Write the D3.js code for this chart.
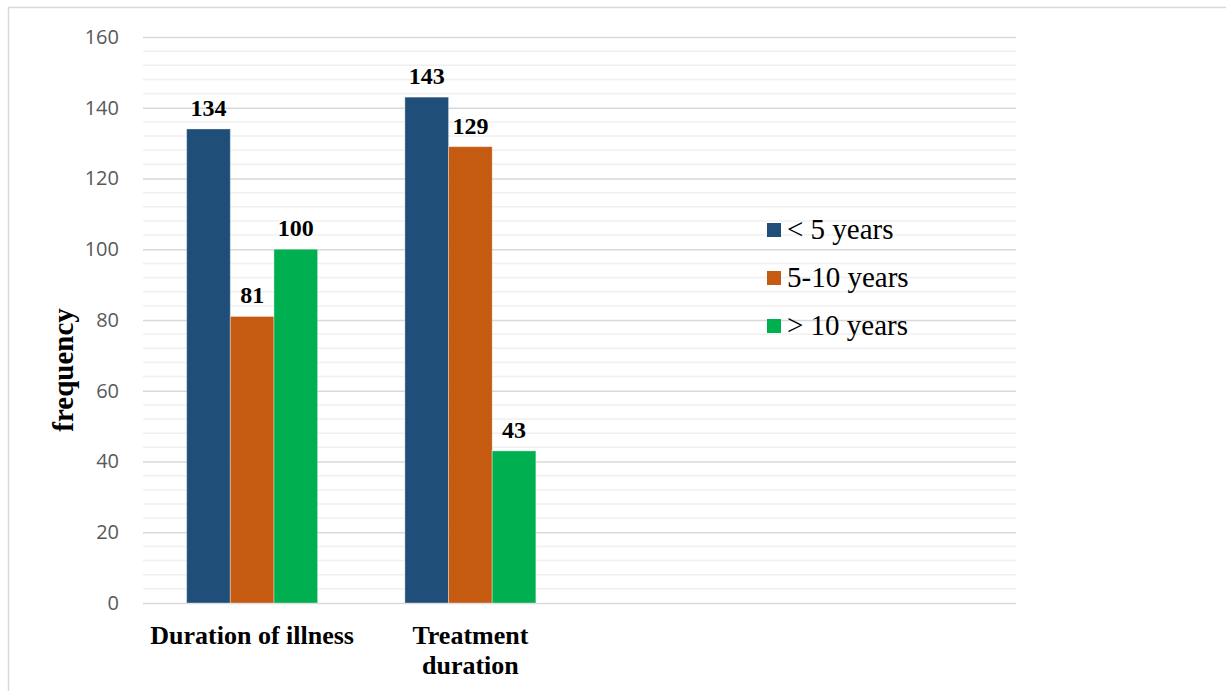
<!DOCTYPE html>
<html>
<head>
<meta charset="utf-8">
<script src="https://cdn.jsdelivr.net/npm/d3@7/dist/d3.min.js"></script>
<style>
  html, body { margin: 0; padding: 0; background: #fff; }
  svg { display: block; }
</style>
</head>
<body>
<svg id="chart" width="1226" height="691"></svg>
<script>
// Frequency of patients by duration band
const categories = ["Duration of illness", "Treatment duration", "", " "];
const seriesNames = ["< 5 years", "5-10 years", "> 10 years"];
const seriesColors = ["#1f4e79", "#c55a11", "#00b050"];
const lessThan5 = [134, 143];
const from5to10 = [81, 129];
const moreThan10 = [100, 43];
const seriesValues = [lessThan5, from5to10, moreThan10];
const yTicks = [0, 20, 40, 60, 80, 100, 120, 140, 160];
const categoryLines = [["Duration of illness"], ["Treatment", "duration"]];

const svg = d3.select("#chart");
const W = 1226, H = 691;
const serif = "'Liberation Serif', 'Times New Roman', serif";

// outer frame
svg.append("rect")
  .attr("x", 8.5).attr("y", 7.5)
  .attr("width", W + 10).attr("height", H + 10)
  .attr("fill", "none").attr("stroke", "#d9d9d9").attr("stroke-width", 1.5);

const plot = { left: 143, right: 1016, top: 37, bottom: 603 };

// four equal category bands; bars fill the middle 60% of each band
const x = d3.scaleBand()
  .domain(categories)
  .range([plot.left, plot.right]);
const groupW = x.bandwidth() * 0.6;
const groupX = i => x(categories[i]) + x.bandwidth() * 0.2;

const xs = d3.scaleBand()
  .domain(d3.range(seriesNames.length))
  .range([0, groupW]);

const y = d3.scaleLinear().domain([0, 160]).range([plot.bottom, plot.top]);

// minor gridlines
const minor = d3.range(0, 161, 4).filter(v => v % 20 !== 0);
svg.append("g").selectAll("line").data(minor).join("line")
  .attr("x1", plot.left).attr("x2", plot.right)
  .attr("y1", d => y(d)).attr("y2", d => y(d))
  .attr("stroke", "#f0f0f0").attr("stroke-width", 1.5);

// major gridlines + tick labels via axis
const yAxis = d3.axisLeft(y).tickValues(yTicks).tickSize(-(plot.right - plot.left)).tickPadding(24);
const gy = svg.append("g").attr("transform", `translate(${plot.left},0)`).call(yAxis);
gy.select(".domain").remove();
gy.selectAll(".tick line").attr("stroke", "#d9d9d9").attr("stroke-width", 1.5);
gy.selectAll(".tick text")
  .attr("fill", "#595959")
  .style("font-family", "'Open Sans', 'Liberation Sans', sans-serif")
  .style("font-size", "20px");

// bars
seriesValues.forEach((vals, s) => {
  svg.append("g").selectAll("rect").data(vals).join("rect")
    .attr("x", (d, i) => groupX(i) + xs(s))
    .attr("width", xs.bandwidth())
    .attr("y", d => y(d))
    .attr("height", d => y(0) - y(d))
    .attr("fill", seriesColors[s])
    .attr("stroke", "#ffffff").attr("stroke-opacity", 0.35).attr("stroke-width", 1);

  svg.append("g").selectAll("text").data(vals).join("text")
    .attr("x", (d, i) => groupX(i) + xs(s) + xs.bandwidth() / 2)
    .attr("y", d => y(d) - 13)
    .attr("text-anchor", "middle")
    .style("font-family", serif)
    .style("font-weight", "bold")
    .style("font-size", "24px")
    .attr("fill", "#000")
    .text(d => d);
});

// category labels
categoryLines.forEach((lines, i) => {
  const cx = groupX(i) + groupW / 2;
  const t = svg.append("text")
    .attr("text-anchor", "middle")
    .style("font-family", serif)
    .style("font-weight", "bold")
    .style("font-size", "26px")
    .attr("fill", "#000");
  lines.forEach((ln, k) => {
    t.append("tspan").attr("x", cx).attr("y", 644 + k * 30).text(ln);
  });
});

// y axis title
svg.append("text")
  .attr("transform", "translate(73,370) rotate(-90)")
  .attr("text-anchor", "middle")
  .style("font-family", serif)
  .style("font-weight", "bold")
  .style("font-size", "29px")
  .attr("fill", "#000")
  .text("frequency");

// legend
const legend = svg.append("g");
seriesNames.forEach((name, s) => {
  const cy = 230 + s * 48;
  legend.append("rect")
    .attr("x", 767).attr("y", cy - 7).attr("width", 14).attr("height", 14)
    .attr("fill", seriesColors[s]);
  legend.append("text")
    .attr("x", 787).attr("y", cy + 9)
    .style("font-family", serif)
    .style("font-size", "29px")
    .attr("fill", "#000")
    .text(name);
});
</script>
</body>
</html>
